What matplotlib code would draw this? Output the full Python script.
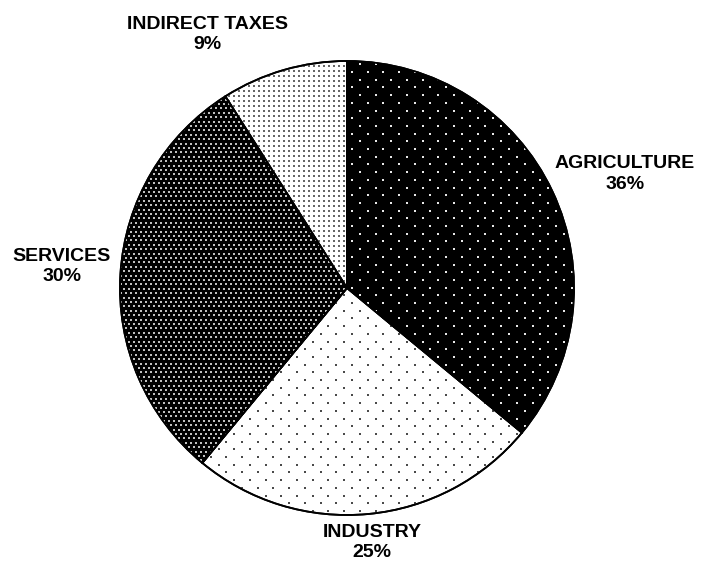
import matplotlib
matplotlib.use("Agg")
import matplotlib.pyplot as plt
from matplotlib.patches import Wedge
import numpy as np

# data
sectors = ["AGRICULTURE", "INDUSTRY", "SERVICES", "INDIRECT TAXES"]
shares = [36, 25, 30, 9]

# look of each slice: background, dot colour, dot spacing x / y (px), stagger
backgrounds = ["black", "white", "black", "white"]
dot_colors = ["#e8e8e8", "#4a4a4a", "#c0c0c0", "#666666"]
dot_steps = [(15.7, 7.7, True), (15.7, 7.7, True), (5.0, 4.4, True), (5.0, 5.0, False)]

# label centres in data units (radius = 1)
label_pos = [(1.225, 0.502), (0.110, -1.121), (-1.256, 0.095), (-0.615, 1.117)]

R_PX = 227.0  # pie radius in pixels
W, H = 707, 572
CX, CY = 347, 288  # pie centre, pixels from top-left

fig = plt.figure(figsize=(W / 100, H / 100), dpi=100)
ax = fig.add_axes([0, 0, 1, 1])

wedges, _ = ax.pie(shares, startangle=90, counterclock=False, colors=backgrounds,
                   wedgeprops=dict(edgecolor="black", linewidth=1.3))

# pie() resets limits, so set them afterwards
ax.set_xlim(-CX / R_PX, (W - CX) / R_PX)
ax.set_ylim(-(H - CY) / R_PX, CY / R_PX)
ax.set_aspect("equal")
ax.axis("off")


def lattice(sx, sy, stagger):
    # texture grid in data units
    xs = np.arange(-1.05, 1.05, sx / R_PX)
    ys = np.arange(-1.05, 1.05, sy / R_PX)
    pts = []
    for i, y in enumerate(ys):
        shift = (sx / R_PX) / 2 if (stagger and i % 2) else 0
        for x in xs:
            pts.append((x + shift, y))
    return np.array(pts)


for w, col, (sx, sy, stg) in zip(wedges, dot_colors, dot_steps):
    p = lattice(sx, sy, stg)
    sc = ax.scatter(p[:, 0], p[:, 1], s=2.0, marker="s", c=col, linewidths=0, zorder=2)
    sc.set_clip_path(w)

# redraw outlines on top of the dots
for w in wedges:
    w2 = Wedge(w.center, w.r, w.theta1, w.theta2, facecolor="none",
               edgecolor="black", linewidth=1.3, zorder=3)
    ax.add_patch(w2)

for name, val, (x, y) in zip(sectors, shares, label_pos):
    ax.text(x, y, f"{name}\n{val}%", ha="center", va="center", fontsize=14,
            fontweight="bold", family="Liberation Sans", linespacing=1.28)

fig.savefig("out.png", dpi=100)
